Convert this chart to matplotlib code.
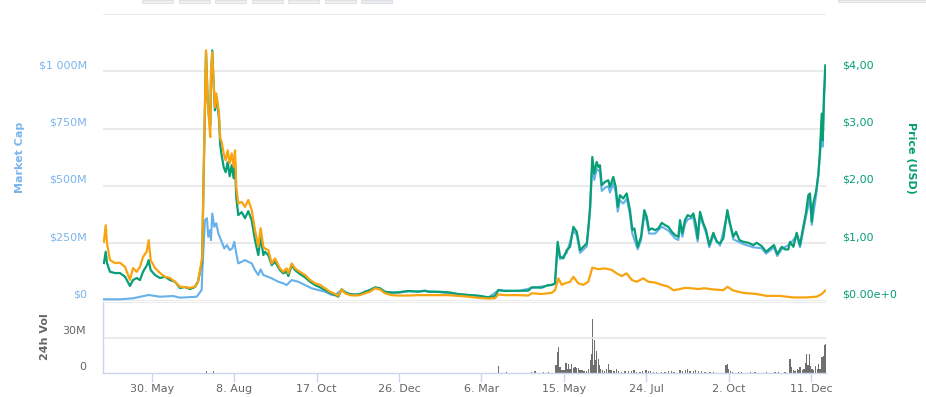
import datetime as dt
import matplotlib
matplotlib.use("Agg")
import matplotlib.pyplot as plt
import matplotlib.dates as mdates
from matplotlib.transforms import offset_copy
from matplotlib.patches import Rectangle
import numpy as np

# ---------------- data ----------------
start_date = dt.datetime(2016, 4, 18)

price_days = [1.4, 2.9, 4.0, 6.5, 10.8, 15.0, 19.3, 23.5, 26.1, 29.2,
              32.0, 34.6, 38.0, 39.4, 41.1, 44.8, 49.0, 53.3, 57.5, 61.7,
              66.0, 70.2, 74.5, 78.7, 81.3, 84.7, 86.6, 88.1, 89.5, 90.6,
              91.7, 92.3, 93.4, 94.6, 95.7, 96.8, 98.0, 99.1, 100.2, 101.4,
              103.1, 104.8, 106.5, 108.2, 109.9, 111.6, 112.7, 113.8, 115.5, 118.4,
              121.2, 124.0, 126.9, 129.7, 132.5, 134.5, 136.8, 138.2, 141.0, 143.9,
              146.7, 150.9, 153.7, 156.6, 158.0, 160.9, 163.7, 167.9, 172.2, 176.4,
              180.7, 184.9, 189.2, 193.4, 197.7, 200.5, 203.3, 206.2, 210.4, 214.7,
              218.9, 223.1, 227.4, 231.6, 235.9, 240.1, 245.8, 251.4, 259.9, 268.4,
              274.1, 276.9, 285.4, 293.9, 302.4, 310.9, 319.4, 327.9, 333.6, 336.4,
              342.1, 353.4, 361.8, 364.7, 373.2, 378.8, 381.7, 384.5, 386.8, 388.8,
              391.6, 394.5, 397.3, 400.1, 403.0, 405.8, 408.6, 411.5, 412.8, 414.3,
              416.2, 417.9, 419.9, 421.3, 422.7, 424.2, 427.0, 429.8, 431.2, 434.0,
              436.1, 437.8, 439.7, 442.5, 445.4, 448.2, 450.2, 451.9, 454.8, 457.6,
              460.4, 462.4, 464.4, 466.7, 469.5, 472.3, 475.2, 478.0, 480.8, 483.7,
              486.5, 489.3, 490.7, 492.7, 494.9, 497.2, 500.0, 502.0, 504.0, 505.7,
              507.7, 510.5, 512.8, 515.6, 519.0, 521.9, 524.7, 527.5, 528.9, 530.9,
              533.2, 536.0, 538.3, 541.1, 544.5, 548.7, 553.0, 555.8, 560.1, 563.8,
              567.1, 570.5, 573.3, 577.1, 579.9, 582.7, 584.1, 587.0, 589.8, 592.6,
              595.4, 597.7, 599.7, 601.1, 602.6, 603.9, 606.2, 608.2, 609.6, 611.1,
              611.9, 613.0, 614.1]
price_usd = [0.653, 0.850, 0.653, 0.502, 0.479, 0.479, 0.415, 0.253, 0.357, 0.392,
             0.357, 0.502, 0.618, 0.706, 0.531, 0.444, 0.392, 0.415, 0.357, 0.328,
             0.218, 0.235, 0.200, 0.235, 0.328, 0.671, 2.709, 4.329, 3.493, 3.232,
             3.057, 3.841, 4.364, 3.754, 3.319, 3.528, 3.389, 3.179, 2.709, 2.535,
             2.326, 2.239, 2.413, 2.169, 2.361, 2.134, 2.413, 1.803, 1.490, 1.542,
             1.437, 1.559, 1.402, 1.054, 0.793, 1.106, 0.793, 0.850, 0.793, 0.618,
             0.676, 0.531, 0.474, 0.502, 0.427, 0.618, 0.531, 0.462, 0.404, 0.328,
             0.270, 0.230, 0.183, 0.136, 0.096, 0.066, 0.195, 0.136, 0.113, 0.096,
             0.113, 0.153, 0.183, 0.230, 0.213, 0.153, 0.136, 0.143, 0.166, 0.153,
             0.171, 0.153, 0.153, 0.143, 0.113, 0.096, 0.084, 0.056, 0.078, 0.183,
             0.166, 0.171, 0.171, 0.230, 0.223, 0.270, 0.270, 0.300, 1.024, 0.763,
             0.735, 0.880, 0.937, 1.286, 1.199, 0.880, 0.937, 0.997, 1.258, 1.634,
             2.505, 2.216, 2.418, 2.331, 2.361, 2.012, 2.070, 2.099, 1.983, 2.157,
             1.983, 1.634, 1.838, 1.780, 1.868, 1.577, 1.228, 1.258, 0.937, 1.111,
             1.577, 1.460, 1.228, 1.258, 1.228, 1.258, 1.355, 1.315, 1.286, 1.199,
             1.141, 1.111, 1.402, 1.171, 1.402, 1.490, 1.460, 1.519, 1.345, 1.084,
             1.547, 1.345, 1.228, 0.967, 1.181, 1.024, 0.997, 1.084, 1.286, 1.577,
             1.345, 1.111, 1.199, 1.054, 1.024, 1.007, 0.967, 1.007, 0.949, 0.850,
             0.909, 0.967, 0.810, 0.937, 0.892, 0.892, 1.024, 0.937, 1.181, 0.967,
             1.286, 1.530, 1.838, 1.868, 1.373, 1.693, 1.895, 2.186, 2.622, 3.261,
             2.796, 3.610, 4.103]

btc_days = [1.4, 2.9, 4.0, 6.5, 10.8, 15.0, 19.3, 23.5, 26.1, 29.2,
            32.0, 34.6, 37.7, 39.4, 41.1, 44.8, 49.0, 53.3, 57.5, 61.7,
            66.0, 70.2, 74.5, 78.7, 81.3, 84.9, 86.6, 88.1, 89.5, 90.6,
            91.7, 92.3, 93.4, 94.6, 95.7, 96.8, 98.0, 99.1, 100.2, 101.4,
            103.1, 104.8, 106.5, 108.2, 109.9, 111.6, 112.7, 113.8, 115.5, 118.4,
            121.2, 124.0, 126.9, 129.7, 132.5, 134.5, 136.8, 138.2, 141.0, 143.9,
            146.7, 150.9, 153.7, 156.6, 158.0, 160.9, 163.7, 167.9, 172.2, 176.4,
            180.7, 184.9, 189.2, 193.4, 197.7, 200.5, 203.3, 206.2, 210.4, 214.7,
            218.9, 223.1, 227.4, 231.6, 235.9, 240.1, 245.8, 251.4, 259.9, 268.4,
            276.9, 285.4, 293.9, 302.4, 310.9, 319.4, 327.9, 333.6, 336.4, 342.1,
            353.4, 361.8, 364.7, 373.2, 381.7, 384.5, 387.4, 390.2, 393.0, 397.3,
            400.1, 404.3, 408.6, 412.8, 416.2, 421.3, 427.0, 432.7, 436.9, 441.2,
            445.4, 449.7, 453.9, 459.6, 463.8, 469.5, 475.2, 480.8, 485.1, 489.3,
            494.9, 500.6, 506.2, 511.3, 519.0, 527.5, 530.9, 536.0, 544.5, 555.8,
            564.3, 575.6, 586.9, 598.3, 606.8, 611.1, 614.1]
price_btc = [0.00154, 0.00197, 0.00150, 0.00106, 0.00098, 0.00099, 0.00088, 0.00054, 0.00085, 0.00075,
             0.00088, 0.00114, 0.00128, 0.00158, 0.00106, 0.00085, 0.00072, 0.00062, 0.00059, 0.00049,
             0.00036, 0.00035, 0.00033, 0.00036, 0.00049, 0.00114, 0.00419, 0.00655, 0.00524, 0.00472,
             0.00428, 0.00594, 0.00650, 0.00568, 0.00506, 0.00542, 0.00516, 0.00490, 0.00425, 0.00415,
             0.00385, 0.00367, 0.00393, 0.00359, 0.00385, 0.00350, 0.00393, 0.00297, 0.00254, 0.00258,
             0.00245, 0.00263, 0.00237, 0.00184, 0.00141, 0.00189, 0.00141, 0.00136, 0.00132, 0.00097,
             0.00110, 0.00084, 0.00075, 0.00084, 0.00071, 0.00097, 0.00084, 0.00075, 0.00067, 0.00054,
             0.00045, 0.00041, 0.00032, 0.00023, 0.00017, 0.00012, 0.00029, 0.00019, 0.00014, 0.00013,
             0.00014, 0.00019, 0.00023, 0.00032, 0.00029, 0.00019, 0.00014, 0.00013, 0.00013, 0.00014,
             0.00014, 0.00014, 0.00014, 0.00012, 0.00010, 0.00007, 0.00005, 0.00006, 0.00016, 0.00014,
             0.00014, 0.00013, 0.00019, 0.00017, 0.00020, 0.00027, 0.00058, 0.00041, 0.00045, 0.00049,
             0.00062, 0.00045, 0.00041, 0.00049, 0.00086, 0.00082, 0.00084, 0.00080, 0.00071, 0.00064,
             0.00071, 0.00054, 0.00049, 0.00058, 0.00049, 0.00047, 0.00041, 0.00036, 0.00027, 0.00029,
             0.00033, 0.00032, 0.00030, 0.00032, 0.00029, 0.00027, 0.00036, 0.00026, 0.00020, 0.00017,
             0.00012, 0.00012, 0.00008, 0.00008, 0.00010, 0.00017, 0.00026]

mcap_days = [0.8, 15.0, 26.1, 39.4, 49.0, 60.1, 66.0, 80.2, 84.4, 84.9,
             87.2, 88.9, 90.0, 91.5, 92.3, 93.4, 95.1, 96.8, 98.5, 100.8,
             103.6, 105.9, 108.2, 110.4, 112.1, 113.8, 115.5, 118.4, 121.2, 124.0,
             126.9, 129.7, 132.5, 134.5, 136.8, 143.9, 149.5, 153.7, 156.6, 160.9,
             166.5, 172.2, 177.9, 183.5, 189.2, 194.9,
             197.7, 203.3, 210.4, 218.9, 227.4, 231.6, 235.9, 240.1, 251.4, 259.9,
             274.1, 285.4, 302.4, 319.4, 327.9, 336.4, 353.4, 364.7, 378.8, 384.5,
             386.8, 388.8, 394.5, 400.1, 403.0, 405.8, 411.5, 414.3, 416.2, 417.9,
             419.9, 422.7, 424.2, 427.0, 429.8, 431.2, 434.0, 436.1, 437.8, 439.7,
             442.5, 445.4, 448.2, 450.2, 454.8, 457.6, 460.4, 462.4, 464.4, 469.5,
             475.2, 480.8, 486.5, 489.3, 490.7, 492.7, 494.9, 497.2, 502.0, 505.7,
             507.7, 512.8, 515.6, 519.0, 524.7, 530.9, 536.0, 544.5, 553.0, 560.1,
             563.8, 570.5, 573.3, 577.1, 584.1, 589.8, 592.6, 597.7, 601.1, 602.6,
             606.2, 609.6, 611.1, 611.9, 613.0, 614.1]
mcap_musd = [5.2, 5.2, 9.6, 24.0, 16.5, 19.6, 12.2, 16.5, 45.7, 119.8,
             350.6, 359.3, 277.8, 307.0, 263.5, 379.8, 321.4, 337.5, 294.0, 263.5,
             227.3, 241.7, 219.9, 227.3, 256.1, 205.6, 162.0, 169.0, 176.4, 169.0,
             162.0, 132.8, 111.1, 135.9, 111.1, 96.7, 81.9, 74.9, 67.5, 89.3,
             81.9, 67.5, 53.1, 45.7, 38.3, 24.0,
             23, 47, 27, 27, 44, 55, 51, 37, 34, 40,
             41, 37, 27, 20, 13, 44, 41, 55, 65, 72,
             240, 180, 208, 305, 284, 208, 236, 388, 595, 526,
             574, 561, 478, 492, 499, 471, 512, 471, 388, 437,
             423, 444, 375, 292, 223, 264, 375, 347, 292, 292,
             322, 305, 271, 264, 333, 278, 333, 354, 361, 257,
             367, 295, 232, 283, 239, 379, 267, 246, 232, 228,
             204, 232, 194, 225, 246, 283, 232, 367, 448, 330,
             455, 630, 783, 671, 866, 985]

vol_days = [88.7, 94.3, 336.4, 343.5, 364.7, 367.5, 374.6, 378.8, 385.4, 386.5,
            387.7, 388.8, 390.5, 392.2, 393.9, 395.0, 396.2, 397.3, 398.7, 400.1,
            401.5, 403.0, 404.3, 405.8, 407.5, 409.2, 410.9, 412.8, 414.3, 415.4,
            416.2, 417.1, 417.9, 418.8, 420.0, 421.1, 422.2, 423.3, 425.0, 426.7,
            428.4, 429.8, 431.2, 432.7, 434.6, 436.9, 438.6, 441.2, 444.0, 446.8,
            449.7, 451.6, 453.9, 456.7, 459.0, 461.8, 463.8, 465.8, 468.0, 470.9,
            475.2, 478.0, 480.8, 483.7, 485.6, 490.7, 493.0, 495.2, 497.0, 499.2,
            502.0, 503.5, 506.2, 509.1, 511.9, 516.2, 519.0, 529.8, 530.9, 532.1,
            533.8, 535.5, 540.2, 543.1, 550.2, 554.4, 564.3, 571.4, 574.2, 579.9,
            584.1, 585.6, 586.9, 588.4, 590.3, 591.5, 592.6, 594.9, 596.0, 597.1,
            598.3, 599.4, 600.5, 601.7, 602.8, 603.9, 605.6, 607.3, 608.5, 609.6,
            611.3, 612.5, 613.6, 614.5]
vol_musd = [1.7, 1.7, 5.6, 0.85, 0.85, 1.4, 0.85, 0.85, 6.5, 17.8,
            22.0, 5.1, 2.8, 2.3, 8.5, 3.7, 7.3, 3.7, 7.9, 4.2,
            5.1, 4.5, 4.2, 2.8, 2.3, 1.7, 1.7, 3.7, 10.7, 16.4,
            46.0, 6.5, 27.7, 10.7, 18.4, 12.1, 6.5, 3.7, 2.8, 1.7,
            3.7, 7.3, 2.8, 2.3, 1.4, 3.7, 1.7, 1.1, 1.4, 1.7,
            1.4, 2.8, 0.85, 1.1, 1.7, 2.3, 1.4, 1.7, 1.1, 0.85,
            1.1, 1.1, 1.4, 1.7, 1.1, 2.8, 1.4, 2.3, 3.7, 1.7,
            1.7, 2.3, 1.4, 1.7, 0.85, 0.85, 0.85, 6.5, 7.9, 3.7,
            1.7, 1.1, 0.85, 0.85, 0.85, 0.85, 0.85, 1.1, 1.1, 0.85,
            12.1, 5.1, 2.8, 1.7, 3.7, 2.8, 5.1, 2.3, 3.7, 8.5,
            15.8, 6.5, 15.8, 5.7, 3.7, 2.8, 5.7, 3.7, 7.9, 3.7,
            13.6, 14.1, 23.4, 24.9]

tick_dates = ["2016-05-30", "2016-08-08", "2016-10-17", "2016-12-26", "2017-03-06",
              "2017-05-15", "2017-07-24", "2017-10-02", "2017-12-11"]
tick_labels = ["30. May", "8. Aug", "17. Oct", "26. Dec", "6. Mar",
               "15. May", "24. Jul", "2. Oct", "11. Dec"]
mcap_ticks = [0, 250, 500, 750, 1000]
mcap_labels = ["$0", "$250M", "$500M", "$750M", "$1 000M"]
price_ticks = [0, 1, 2, 3, 4]
price_labels = ["$0.00e+0", "$1,00", "$2,00", "$3,00", "$4,00"]
vol_ticks = [0, 30]
vol_labels = ["0", "30M"]

# ---------------- style ----------------
BLUE = "#66b1ea"
BLUE_TXT = "#7cb5ec"
GREEN = "#089e76"
ORANGE = "#f9a30f"
GRID = "#e6e6e6"
AXIS = "#ccd6eb"
GREY_TXT = "#666666"
BAR = "#6f6f6f"

W, H = 926, 397
fig = plt.figure(figsize=(W / 100, H / 100), dpi=100)
fig.patch.set_facecolor("white")


def fx(px):
    return px / W


def fy(py):
    return 1 - py / H


base = mdates.date2num(start_date)
x_left, x_right = base + 0.6, base + 614.7

def to_x(days):
    return base + np.asarray(days, dtype=float)

# main panel
ax = fig.add_axes([fx(103), fy(300.5), fx(826) - fx(103), fy(14) - fy(300.5)])
ax2 = ax.twinx()
ax3 = ax.twinx()
for a in (ax, ax2, ax3):
    a.set_xlim(x_left, x_right)
    for s in a.spines.values():
        s.set_visible(False)
    a.tick_params(left=False, right=False, bottom=False, top=False,
                  labelleft=False, labelright=False, labelbottom=False)
ax.set_ylim(0, 1250)
ax2.set_ylim(0, 5)
ax3.set_ylim(0, 0.0075)
ax.set_yticks([0, 250, 500, 750, 1000, 1250])
ax.yaxis.grid(True, color=GRID, lw=1.2)
ax2.set_yticks([])
ax3.set_yticks([])

ax.plot(to_x(mcap_days), mcap_musd, color=BLUE, lw=1.5, solid_joinstyle="round")
ax2.plot(to_x(price_days), price_usd, color=GREEN, lw=1.6, solid_joinstyle="round")
ax3.plot(to_x(btc_days), price_btc, color=ORANGE, lw=1.6, solid_joinstyle="round")

tl = offset_copy(ax.get_yaxis_transform(), fig=fig, x=-16, y=6, units="dots")
for v, s in zip(mcap_ticks, mcap_labels):
    ax.text(0, v, s, transform=tl, ha="right", va="center", fontsize=8,
            color=BLUE_TXT, clip_on=False)
tr = offset_copy(ax2.get_yaxis_transform(), fig=fig, x=16, y=6, units="dots")
for v, s in zip(price_ticks, price_labels):
    ax2.text(1, v, s, transform=tr, ha="left", va="center", fontsize=8,
             color=GREEN, clip_on=False)

# volume panel
axv = fig.add_axes([fx(103), fy(373), fx(826) - fx(103), fy(302) - fy(373)])
axv.set_xlim(x_left, x_right)
axv.set_ylim(0, 60)
axv.bar(to_x(vol_days), vol_musd, width=0.95, color=BAR, align="center", linewidth=0)
axv.set_yticks([30, 60])
axv.yaxis.grid(True, color=GRID, lw=1.2)
axv.tick_params(axis="y", left=False, labelleft=False)
for k in ("top", "right"):
    axv.spines[k].set_visible(False)
for k in ("bottom", "left"):
    axv.spines[k].set_color(AXIS)
    axv.spines[k].set_linewidth(1)
axv.set_xticks([mdates.date2num(np.datetime64(d)) for d in tick_dates])
axv.set_xticklabels(tick_labels)
axv.tick_params(axis="x", length=6.5, width=1, color=AXIS, labelcolor=GREY_TXT,
                labelsize=8, pad=1.5, direction="out")
tv = offset_copy(axv.get_yaxis_transform(), fig=fig, x=-17, y=6, units="dots")
for v, s in zip(vol_ticks, vol_labels):
    axv.text(0, v, s, transform=tv, ha="right", va="center", fontsize=8,
             color=GREY_TXT, clip_on=False)

# axis titles
fig.text(fx(20), fy(157), "Market Cap", rotation=90, ha="center", va="center",
         fontsize=8, fontweight="bold", color=BLUE_TXT)
fig.text(fx(911), fy(158), "Price (USD)", rotation=270, ha="center", va="center",
         fontsize=8, fontweight="bold", color=GREEN)
fig.text(fx(45), fy(337), "24h Vol", rotation=90, ha="center", va="center",
         fontsize=8, fontweight="bold", color=GREY_TXT)

# clipped range-selector buttons at the top edge
for i, x0 in enumerate([142, 178.5, 215, 251.5, 288, 324.5, 361]):
    fc = "#e6ebf5" if i == 6 else "#f0f0f0"
    fig.add_artist(Rectangle((fx(x0), fy(3)), 31 / W, 3 / H, transform=fig.transFigure,
                             facecolor=fc, edgecolor="#dddddd", lw=0.6))
fig.add_artist(Rectangle((fx(838), fy(2)), 88 / W, 2 / H, transform=fig.transFigure,
                         facecolor="#f0f0f0", edgecolor="#dddddd", lw=0.6))

fig.savefig("out.png", dpi=100, facecolor="white")
